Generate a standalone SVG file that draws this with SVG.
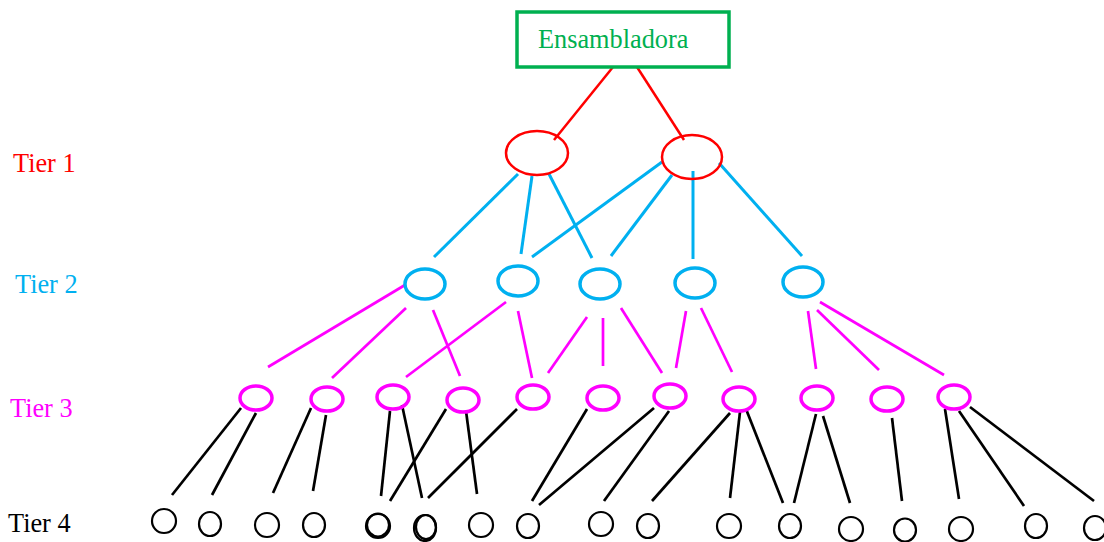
<svg xmlns="http://www.w3.org/2000/svg" width="1104" height="542" viewBox="0 0 1104 542">
<style>
text{font-family:"Liberation Serif","Times New Roman",serif;font-size:26.3px}
.t1{fill:none;stroke:#ff0000;stroke-width:2.5}
.t2{fill:none;stroke:#00b0f0;stroke-width:3.5}
.t3{fill:none;stroke:#ff00ff;stroke-width:3.5}
.t4{fill:none;stroke:#000;stroke-width:2.2}
.lr{stroke:#ff0000;stroke-width:2.5}
.lb{stroke:#00b0f0;stroke-width:3}
.lm{stroke:#ff00ff;stroke-width:2.7}
.lk{stroke:#000;stroke-width:2.7}
</style>
<rect width="1104" height="542" fill="#fff"/>
<g id="labels">
<text x="13" y="172" fill="#ff0000">Tier 1</text>
<text x="15" y="293" fill="#00b0f0">Tier 2</text>
<text x="10" y="417" fill="#ff00ff">Tier 3</text>
<text x="8" y="532" fill="#000">Tier 4</text>
</g>
<g id="connectors">
<line class="lr" x1="613" y1="67" x2="554" y2="140"/>
<line class="lr" x1="637" y1="67" x2="684" y2="140"/>
<line class="lb" x1="518" y1="174" x2="434" y2="257"/>
<line class="lb" x1="532" y1="176" x2="521" y2="254"/>
<line class="lb" x1="549" y1="174" x2="592" y2="258"/>
<line class="lb" x1="662" y1="162" x2="532" y2="257"/>
<line class="lb" x1="672" y1="175" x2="611" y2="256"/>
<line class="lb" x1="693" y1="171" x2="693" y2="259"/>
<line class="lb" x1="719" y1="163" x2="802" y2="256"/>
<line class="lm" x1="405" y1="285" x2="268" y2="367"/>
<line class="lm" x1="406" y1="308" x2="332" y2="378"/>
<line class="lm" x1="433" y1="310" x2="460" y2="376"/>
<line class="lm" x1="506" y1="302" x2="406" y2="377"/>
<line class="lm" x1="518" y1="311" x2="532" y2="378"/>
<line class="lm" x1="587" y1="317" x2="548" y2="373"/>
<line class="lm" x1="603" y1="318" x2="603" y2="366"/>
<line class="lm" x1="621" y1="308" x2="662" y2="373"/>
<line class="lm" x1="686" y1="311" x2="676" y2="368"/>
<line class="lm" x1="701" y1="308" x2="732" y2="372"/>
<line class="lm" x1="808" y1="311" x2="816" y2="369"/>
<line class="lm" x1="817" y1="310" x2="879" y2="370"/>
<line class="lm" x1="820" y1="302" x2="944" y2="375"/>
<line class="lk" x1="241" y1="408" x2="172" y2="495"/>
<line class="lk" x1="256" y1="413" x2="212" y2="495"/>
<line class="lk" x1="311" y1="408" x2="273" y2="493"/>
<line class="lk" x1="326" y1="415" x2="313" y2="491"/>
<line class="lk" x1="390" y1="411" x2="381" y2="496"/>
<line class="lk" x1="402" y1="405" x2="422" y2="498"/>
<line class="lk" x1="446" y1="409" x2="390" y2="501"/>
<line class="lk" x1="466" y1="411" x2="477" y2="494"/>
<line class="lk" x1="517" y1="409" x2="428" y2="498"/>
<line class="lk" x1="587" y1="409" x2="532" y2="501"/>
<line class="lk" x1="654" y1="408" x2="539" y2="505"/>
<line class="lk" x1="669" y1="411" x2="604" y2="501"/>
<line class="lk" x1="730" y1="413" x2="652" y2="501"/>
<line class="lk" x1="740" y1="412" x2="730" y2="498"/>
<line class="lk" x1="746" y1="409" x2="783" y2="503"/>
<line class="lk" x1="816" y1="414" x2="794" y2="503"/>
<line class="lk" x1="823" y1="416" x2="850" y2="503"/>
<line class="lk" x1="892" y1="418" x2="902" y2="501"/>
<line class="lk" x1="945" y1="409" x2="959" y2="499"/>
<line class="lk" x1="959" y1="411" x2="1024" y2="506"/>
<line class="lk" x1="970" y1="407" x2="1094" y2="501"/>
</g>
<g id="ensambladora">
<rect x="517" y="12" width="212" height="55" fill="none" stroke="#00b050" stroke-width="3.5"/>
<text x="538" y="48" fill="#00b050" font-size="27.8">Ensambladora</text>
</g>
<g id="tier1">
<ellipse class="t1" cx="537" cy="153" rx="31" ry="22"/>
<ellipse class="t1" cx="692" cy="157" rx="30" ry="22"/>
</g>
<g id="tier2">
<ellipse class="t2" cx="425" cy="284" rx="20" ry="15"/>
<ellipse class="t2" cx="518" cy="281" rx="20" ry="15"/>
<ellipse class="t2" cx="600" cy="284" rx="20" ry="15"/>
<ellipse class="t2" cx="695" cy="283" rx="20" ry="15"/>
<ellipse class="t2" cx="803" cy="282" rx="20" ry="15"/>
</g>
<g id="tier3">
<ellipse class="t3" cx="256" cy="398" rx="16" ry="12"/>
<ellipse class="t3" cx="327" cy="399" rx="16" ry="12"/>
<ellipse class="t3" cx="393" cy="397" rx="16" ry="12"/>
<ellipse class="t3" cx="463" cy="400" rx="16" ry="12"/>
<ellipse class="t3" cx="533" cy="397" rx="16" ry="12"/>
<ellipse class="t3" cx="603" cy="398" rx="16" ry="12"/>
<ellipse class="t3" cx="670" cy="396" rx="16" ry="12"/>
<ellipse class="t3" cx="739" cy="399" rx="16" ry="12"/>
<ellipse class="t3" cx="817" cy="398" rx="16" ry="12"/>
<ellipse class="t3" cx="887" cy="399" rx="16" ry="12"/>
<ellipse class="t3" cx="954" cy="397" rx="16" ry="12"/>
</g>
<g id="tier4">
<ellipse class="t4" cx="164" cy="521" rx="12" ry="12"/>
<ellipse class="t4" cx="210" cy="524" rx="11" ry="12"/>
<ellipse class="t4" cx="267" cy="525" rx="12" ry="12"/>
<ellipse class="t4" cx="314" cy="525" rx="11" ry="12"/>
<ellipse class="t4" cx="378" cy="526" rx="12" ry="12"/>
<ellipse class="t4" cx="378" cy="525" rx="11" ry="11.5"/>
<ellipse class="t4" cx="425" cy="528" rx="11" ry="13"/>
<ellipse class="t4" cx="426" cy="527" rx="10" ry="12"/>
<ellipse class="t4" cx="481" cy="525" rx="12" ry="12"/>
<ellipse class="t4" cx="528" cy="526" rx="11" ry="12"/>
<ellipse class="t4" cx="601" cy="524" rx="12" ry="12"/>
<ellipse class="t4" cx="648" cy="526" rx="11" ry="12"/>
<ellipse class="t4" cx="729" cy="526" rx="12" ry="12"/>
<ellipse class="t4" cx="790" cy="526" rx="11" ry="12"/>
<ellipse class="t4" cx="851" cy="529" rx="12" ry="12"/>
<ellipse class="t4" cx="905" cy="530" rx="11" ry="11.5"/>
<ellipse class="t4" cx="961" cy="529" rx="12" ry="12"/>
<ellipse class="t4" cx="1036" cy="526" rx="11" ry="12"/>
<ellipse class="t4" cx="1095" cy="528" rx="11" ry="12"/>
</g>
</svg>
